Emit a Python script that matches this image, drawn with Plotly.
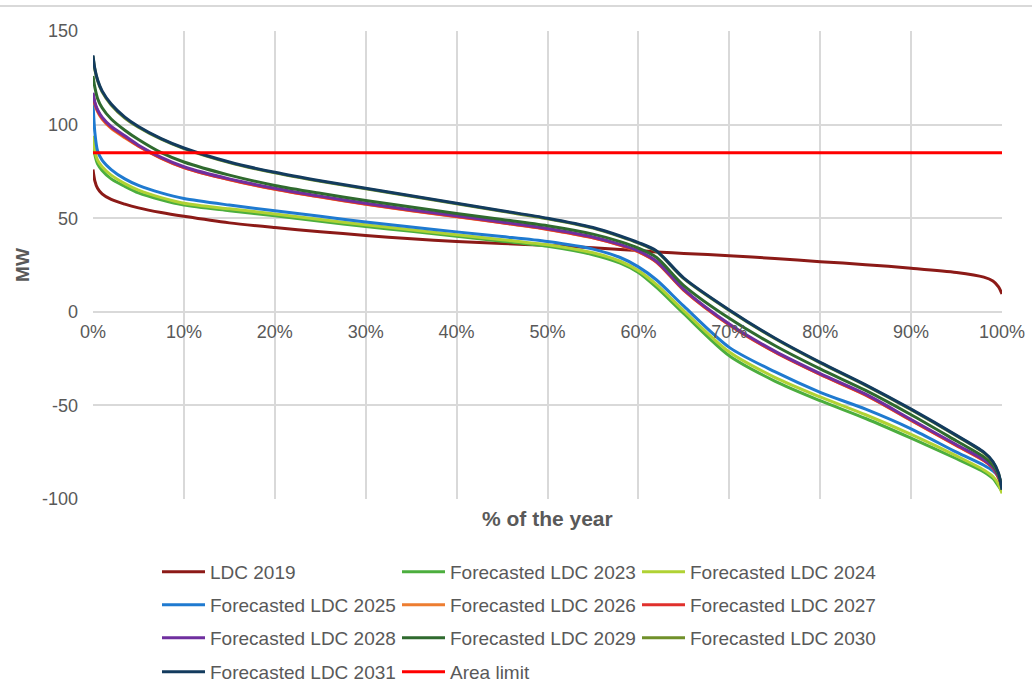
import plotly.graph_objects as go

# Share of the year (%) at which each load-duration value is sampled
pct = [0, 0.2, 0.5, 1, 2, 3.5, 5, 7.5, 10, 15, 20, 25, 30, 35, 40, 45, 50,
       55, 58, 60, 62, 65, 70, 75, 80, 85, 90, 95, 98, 99, 99.6, 100]

ldc_2019 = [76, 70, 66, 63, 60, 57.5, 55.5, 53, 51, 47.5, 45, 42.8, 40.8, 39, 37.5, 36.5, 35.5,
            34.2, 33.3, 32.7, 32, 31.2, 30, 28.5, 26.8, 25.2, 23.3, 21, 18.5, 16.5, 13.5, 9.5]
ldc_2023 = [91, 84, 79, 75.5, 71, 67, 63.5, 59.8, 57, 54, 51.3, 48.3, 45.5, 43, 40.3, 37.7, 35,
            30.5, 26, 21, 13, -1, -23.5, -37, -47.5, -57, -67.5, -78.5, -85.5, -89, -93, -96]
ldc_2024 = [94, 86, 81, 77.5, 73, 68.5, 65, 61, 58, 55, 52.3, 49.3, 46.5, 43.8, 41.2, 38.5, 35.8,
            31.5, 27, 22, 14.5, 0.5, -21.5, -35, -45.5, -55, -65.5, -77, -84.5, -88, -92, -97]
ldc_2025 = [112, 96, 86, 81, 76, 71, 67.5, 63.5, 60.5, 57, 54, 51, 48, 45.3, 42.7, 40.2, 37.5,
            33.5, 29, 24, 17, 3, -19, -32, -43, -52, -62.5, -75, -82, -85, -88, -92]
ldc_2026 = [116, 111, 107, 103, 98, 93, 88.5, 82, 77, 70.5, 65.5, 61.3, 57.5, 54, 50.8, 47.5, 44,
            39.5, 35.5, 32, 26.5, 11.5, -7, -21.5, -33.5, -44.5, -58, -71.5, -79.5, -83.5, -88.5, -93]
ldc_2027 = [116.5, 111.5, 107.5, 103.5, 98.5, 93.5, 88.6, 82.1, 77.1, 70.6, 65.6, 61.4, 57.6, 54.1, 50.9, 47.6, 44.1,
            39.6, 35.6, 32.1, 26.6, 11.6, -6.9, -21.4, -33.4, -44.4, -57.9, -71.4, -79.4, -83.4, -88.4, -93]
ldc_2028 = [117, 112, 108, 104, 99, 94, 89, 82.5, 77.5, 71, 66, 61.8, 58, 54.5, 51.3, 48, 44.5,
            40, 36, 32.5, 27, 12, -6.5, -21, -33, -44, -57.5, -71, -79, -83, -88, -93]
ldc_2029 = [126, 120, 114, 109, 103, 97, 92, 85, 80, 73, 67.5, 63.3, 59.5, 56, 52.5, 49.3, 46,
            41.5, 37.5, 34, 29, 14, -3.5, -18, -30.5, -42, -55, -69, -77.5, -82, -87, -94]
ldc_2030 = [136.5, 129.5, 123.5, 117.5, 110.5, 103.5, 98.6, 92.2, 87.2, 79.7, 74.2, 69.7, 65.7, 61.7, 57.7, 53.7, 49.7,
            44.7, 40.2, 36.7, 32.2, 17.7, 0.7, -14.3, -27.3, -39.3, -52.3, -66.3, -75.3, -80.3, -86.3, -95]
ldc_2031 = [137, 130, 124, 118, 111, 104, 99, 92.5, 87.5, 80, 74.5, 70, 66, 62, 58, 54, 50,
            45, 40.5, 37, 32.5, 18, 1, -14, -27, -39, -52, -66, -75, -80, -86, -95]
area_limit_mw = 85

series_names = ["LDC 2019", "Forecasted LDC 2023", "Forecasted LDC 2024", "Forecasted LDC 2025",
                "Forecasted LDC 2026", "Forecasted LDC 2027", "Forecasted LDC 2028",
                "Forecasted LDC 2029", "Forecasted LDC 2030", "Forecasted LDC 2031"]
series_values = [ldc_2019, ldc_2023, ldc_2024, ldc_2025, ldc_2026, ldc_2027,
                 ldc_2028, ldc_2029, ldc_2030, ldc_2031]
series_colors = ["#8c1a17", "#4cae3e", "#b0d234", "#1f7ad0", "#ed7d31", "#e0302c",
                 "#6f2f9f", "#2f6a2e", "#70902a", "#133b5e"]

x_ticks = [0, 10, 20, 30, 40, 50, 60, 70, 80, 90, 100]
x_labels = [f"{v}%" for v in x_ticks]
y_ticks = [150, 100, 50, 0, -50, -100]
y_labels = ["150", "100", "50", "0", "-50", "-100"]

FONT = "Liberation Sans, Arial, sans-serif"
GREY = "#595959"
GRID = "#d9d9d9"

# legend rows: which legend each series belongs to
legend_rows = ["legend", "legend", "legend", "legend2", "legend2", "legend2",
               "legend3", "legend3", "legend3", "legend4"]

fig = go.Figure()
for name, vals, col, lg in zip(series_names, series_values, series_colors, legend_rows):
    fig.add_trace(go.Scatter(
        x=pct, y=vals, name=name, mode="lines", legend=lg,
        line=dict(color=col, width=3, shape="spline", smoothing=0.8),
    ))

fig.add_trace(go.Scatter(
    x=[pct[0], pct[-1]], y=[area_limit_mw, area_limit_mw], name="Area limit",
    mode="lines", legend="legend4", line=dict(color="#ff0000", width=3),
))

# plot area: 93..1002 px horizontally, 31..499 px vertically
L, R, T, B = 93, 30, 31, 185
W, H = 1032, 684
pw, ph = W - L - R, H - T - B

def px_x(p):
    return (p - L) / pw

def px_y(p):
    return (H - B - p) / ph

legend_common = dict(
    orientation="h", xanchor="left", yanchor="middle",
    font=dict(family=FONT, size=19, color=GREY),
    entrywidth=182, entrywidthmode="pixels", itemwidth=43,
    bgcolor="rgba(0,0,0,0)", traceorder="normal",
)
row_centres = [572, 605, 638, 672]
legend_left = 157

fig.update_layout(
    width=W, height=H,
    margin=dict(l=L, r=R, t=T, b=B, autoexpand=False),
    paper_bgcolor="white", plot_bgcolor="white",
    font=dict(family=FONT, size=18, color=GREY),
    showlegend=True,
    legend=dict(x=px_x(legend_left), y=px_y(row_centres[0]), **legend_common),
    legend2=dict(x=px_x(legend_left), y=px_y(row_centres[1]), **legend_common),
    legend3=dict(x=px_x(legend_left), y=px_y(row_centres[2]), **legend_common),
    legend4=dict(x=px_x(legend_left), y=px_y(row_centres[3]), **legend_common),
    xaxis=dict(
        range=[0, 100], tickvals=x_ticks, ticktext=x_labels,
        showgrid=True, gridcolor=GRID, gridwidth=1.5,
        anchor="free", position=100 / 250,
        showline=False, zeroline=False, ticks="",
        tickfont=dict(family=FONT, size=18, color=GREY),
        ticklabelstandoff=7,
    ),
    yaxis=dict(
        range=[-100, 150], tickvals=y_ticks, ticktext=y_labels,
        showgrid=True, gridcolor=GRID, gridwidth=1.5,
        zeroline=True, zerolinecolor=GRID, zerolinewidth=1.5,
        showline=False, ticks="",
        tickfont=dict(family=FONT, size=18, color=GREY),
        ticklabelstandoff=14,
        title=dict(text="<b>MW</b>", font=dict(family=FONT, size=19, color=GREY), standoff=7),
    ),
    annotations=[dict(
        text="<b>% of the year</b>", x=0.5, y=px_y(518), xref="paper", yref="paper",
        showarrow=False, xanchor="center", yanchor="middle",
        font=dict(family=FONT, size=21, color=GREY),
    )],
    shapes=[dict(
        type="line", xref="paper", yref="paper",
        x0=px_x(0), x1=px_x(W), y0=px_y(6), y1=px_y(6),
        line=dict(color=GRID, width=2),
    )],
)

fig.write_html("out.html")
